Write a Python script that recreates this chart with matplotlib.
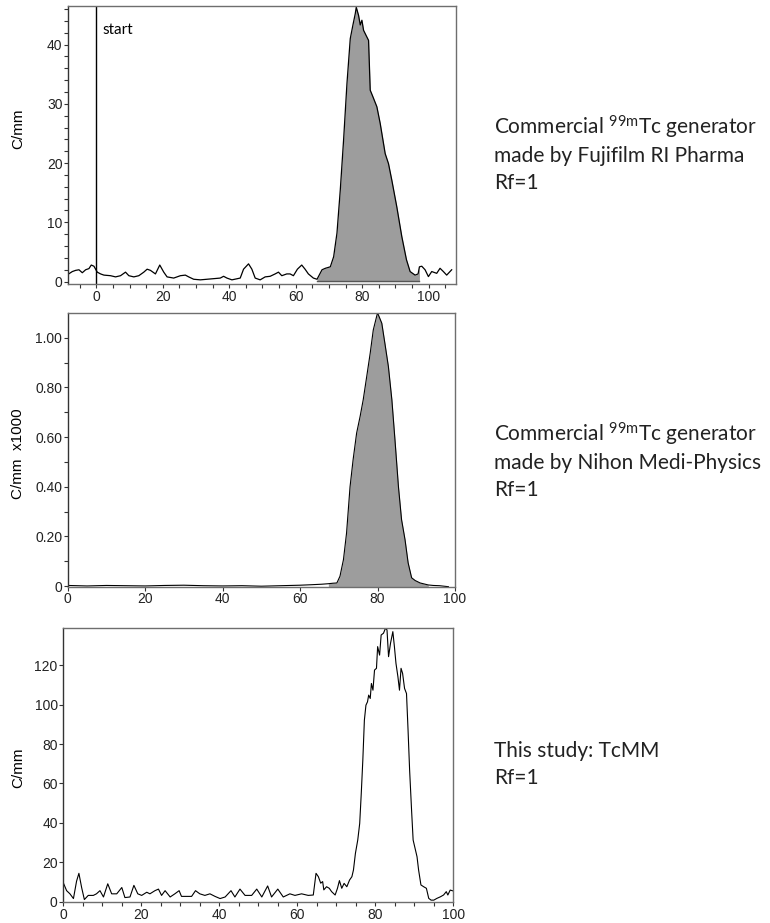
import numpy as np
import matplotlib.pyplot as plt
from matplotlib.ticker import MultipleLocator, FixedLocator, FixedFormatter

plt.rcParams['font.family'] = ['Liberation Sans', 'DejaVu Sans']
plt.rcParams['mathtext.default'] = 'regular'

# panel 1: Fujifilm RI Pharma generator
x1 = [-8.3, -7.2, -6.2, -5.2, -4.2, -3.2, -2.2, -1.5, -0.7, 0.3, 1.3, 2.3, 4.3, 5.8,
      7.3, 8.8, 9.8, 11.3, 12.8, 14.3, 15.3, 16.3, 17.8, 19.1, 20.3, 21.3, 23.3, 25.3,
      26.8, 27.8, 29.3, 31.3, 33.3, 35.3, 37.3, 38.3, 39.3, 40.8, 43.3, 44.3, 45.8,
      46.8, 47.8, 49.3, 50.8, 52.3, 53.8, 54.8, 55.8, 57.3, 58.3, 59.3, 60.5, 61.8,
      62.8, 63.8, 65.3,
      66.4, 67.9, 68.9, 70.4, 71.4, 72.4, 73.4, 74.4, 75.4, 76.4, 77.2, 77.9, 78.2,
      78.9, 79.4, 79.9, 80.4, 81.1, 81.9, 82.4, 83.2, 84.4, 85.4, 86.9, 87.9, 88.9,
      90.4, 91.9, 93.3, 94.4, 95.9, 96.8, 97.2, 97.9, 98.9, 99.9, 100.9, 102.4,
      103.4, 104.4, 105.4, 106.9]
y1 = [1.3, 1.7, 1.9, 2.0, 1.5, 2.0, 2.2, 2.8, 2.6, 1.6, 1.3, 1.1, 1.0, 0.8,
      1.0, 1.6, 1.0, 0.8, 1.0, 1.6, 2.1, 1.9, 1.3, 2.8, 1.6, 0.8, 0.6, 1.0,
      1.1, 0.8, 0.4, 0.3, 0.4, 0.5, 0.6, 0.9, 0.6, 0.3, 0.6, 2.1, 3.0,
      2.1, 0.6, 0.3, 0.8, 0.9, 1.3, 1.6, 1.0, 1.3, 1.3, 1.0, 2.1, 2.8,
      2.1, 1.3, 0.6,
      0.4, 2.0, 2.25, 2.5, 4.2, 8.2, 15.5, 24.0, 33.4, 41.0, 43.3, 45.2, 46.3,
      44.9, 43.3, 44.1, 42.4, 41.6, 40.7, 32.3, 31.2, 29.5, 26.7, 21.6, 19.9, 17.1,
      12.6, 7.6, 3.7, 1.7, 1.1, 1.3, 2.5, 2.6, 2.0, 0.85, 1.7, 1.4,
      2.25, 1.7, 1.1, 2.0]
fill1 = (66.4, 97.2)

# panel 2: Nihon Medi-Physics generator (x1000)
x2 = [0, 5, 10, 15, 20, 25, 30, 35, 40, 45, 50, 55, 60, 63, 65.6, 67.3, 68.5, 69.5,
      70.3, 71.2, 72.0, 72.9, 73.7, 74.6, 75.5, 76.3, 77.2, 78.1, 78.9, 80.0, 81.1,
      81.9, 82.8, 83.7, 84.5, 85.4, 86.2, 87.1, 87.9, 88.8, 89.7, 91.0, 93.1, 94.4,
      96.0, 98.3]
y2 = [0.003, 0.001, 0.003, 0.002, 0.001, 0.003, 0.004, 0.002, 0.001, 0.002, 0.0,
      0.002, 0.004, 0.006, 0.008, 0.010, 0.012, 0.013, 0.04, 0.107, 0.214, 0.40,
      0.51, 0.616, 0.683, 0.75, 0.843, 0.937, 1.031, 1.10, 1.058, 0.977, 0.884, 0.75,
      0.589, 0.40, 0.268, 0.187, 0.094, 0.034, 0.023, 0.013, 0.005, 0.003, 0.002,
      -0.002]
fill2 = (67.3, 93.1)

# panel 3: this study, TcMM
x3 = [0, 0.85, 1.7, 2.6, 3.4, 4.0, 4.7, 5.4, 6.4, 7.7, 8.5, 9.4, 10.3, 11.4, 12.4,
      13.7, 15.0, 15.8, 17.1, 18.1, 19.1, 20.1, 21.4, 22.2, 23.5, 24.4, 25.2, 26.1,
      27.4, 28.6, 29.7, 30.3, 31.6, 32.9, 33.9, 35.0, 36.3, 37.6, 38.9, 40.2, 41.5,
      43.0, 44.0, 45.3, 46.6, 48.3, 49.6, 50.9, 52.4, 53.4, 55.0, 56.4, 58.1, 59.4,
      61.1, 62.8, 64.1, 64.8, 65.4, 66.0, 66.5, 66.8, 67.5, 68.2, 68.8, 69.7, 70.3,
      70.8, 71.4, 72.0, 72.7, 73.4, 74.0, 74.4, 74.9, 75.5, 76.0, 76.4, 76.8, 77.2,
      77.6, 78.0, 78.3, 78.7, 79.0, 79.4, 79.8, 80.3, 80.6, 81.1, 81.5, 82.1, 82.6,
      83.0, 83.4, 83.9, 84.5, 84.9, 85.3, 85.8, 86.2, 86.6, 87.0, 87.5, 88.0, 88.4,
      88.8, 89.3, 89.7, 90.3, 90.7, 91.1, 91.7, 92.4, 93.1, 93.7, 94.3, 95.0, 95.8,
      96.7, 97.5, 98.2, 98.6, 99.2, 99.9]
y3 = [9.6, 5.6, 4.0, 1.6, 10.4, 14.4, 7.2, 1.1, 3.2, 3.2, 4.0, 5.6, 2.4, 9.1, 4.0,
      4.0, 7.2, 2.1, 2.4, 8.3, 4.0, 3.2, 4.8, 4.0, 5.6, 6.4, 3.2, 5.6,
      2.4, 4.0, 5.6, 2.7, 2.7, 2.7, 5.6, 4.0, 3.2, 4.0, 2.7, 1.6, 2.4,
      5.6, 2.4, 6.4, 3.2, 3.2, 6.4, 2.4, 8.0, 2.4, 6.4, 2.4, 4.0, 3.2,
      4.0, 3.2, 3.4, 14.4, 12.7, 9.4, 10.2, 6.0, 7.6, 6.8, 5.1, 3.4, 6.8,
      10.7, 6.8, 9.3, 7.6, 11.0, 12.7, 16.1, 24.5, 31.3, 39.7, 54.9, 71.8, 92.1,
      99.7, 101.4, 104.8, 103.1, 110.7, 107.3, 117.5, 118.4, 129.4, 125.1, 135.3, 136.2, 138.7,
      137.9, 124.3, 131.1, 137.0, 129.4, 120.9, 114.1, 107.3, 118.4, 115.8, 108.2, 105.6, 87.0,
      66.7, 46.4, 31.3, 26.2, 22.8, 16.1, 8.5, 7.6, 6.8, 1.7, 0.8, 0.8, 1.7,
      2.5, 3.4, 5.1, 3.4, 5.9, 5.5]

labels = [['Commercial $^{99m}$Tc generator', 'made by Fujifilm RI Pharma', 'Rf=1'],
          ['Commercial $^{99m}$Tc generator', 'made by Nihon Medi-Physics', 'Rf=1'],
          ['This study: TcMM', 'Rf=1']]
label_top = [134, 441, 757]   # baseline of first line, px from top

W, H = 770, 923
fig = plt.figure(figsize=(W / 100, H / 100), dpi=100)


def box(l, t, r, b):
    return fig.add_axes([l / W, 1 - b / H, (r - l) / W, (b - t) / H])


def style(ax):
    for s in ax.spines.values():
        s.set_color('#6e6e6e')
        s.set_linewidth(1.0)
    ax.spines['left'].set_color('#333333')
    ax.tick_params(which='both', direction='out', length=3, width=0.8,
                   labelsize=10, pad=1, color='#333333', labelcolor='#222222')


fillc = '#9d9d9d'

ax1 = box(68, 6, 456, 284)
xa = np.array(x1)
ya = np.array(y1)
m = (xa >= fill1[0]) & (xa <= fill1[1])
ax1.fill_between(xa[m], 0, ya[m], color=fillc, lw=0)
ax1.plot([fill1[0], fill1[1]], [0.05, 0.05], color='#555555', lw=1)
ax1.plot(x1, y1, color='black', lw=0.9)
ax1.axvline(0, color='black', lw=1)
ax1.text(1.8, 42.5, 'start', family='Lato', fontsize=11, va='center')
ax1.set_xlim(-8.5, 108.2)
ax1.set_ylim(-0.4, 46.5)
ax1.xaxis.set_major_locator(MultipleLocator(20))
ax1.xaxis.set_minor_locator(MultipleLocator(5))
ax1.yaxis.set_major_locator(MultipleLocator(10))
ax1.yaxis.set_minor_locator(MultipleLocator(2))
style(ax1)

ax2 = box(67.7, 313.3, 455, 586.7)
xb = np.array(x2)
yb = np.array(y2)
m = (xb >= fill2[0]) & (xb <= fill2[1])
ax2.fill_between(xb[m], -0.008, yb[m], color=fillc, lw=0)
ax2.plot(x2, y2, color='black', lw=0.8)
ax2.set_xlim(0, 100)
ax2.set_ylim(-0.002, 1.098)
ax2.xaxis.set_major_locator(MultipleLocator(20))
ax2.yaxis.set_major_locator(FixedLocator([0, 0.2, 0.4, 0.6, 0.8, 1.0]))
ax2.yaxis.set_major_formatter(FixedFormatter(['0', '0.20', '0.40', '0.60', '0.80', '1.00']))
ax2.yaxis.set_minor_locator(MultipleLocator(0.1))
style(ax2)

ax3 = box(63.3, 627.7, 453.3, 902.3)
ax3.plot(x3, y3, color='black', lw=0.8)
ax3.set_xlim(0, 100)
ax3.set_ylim(-0.3, 139)
ax3.xaxis.set_major_locator(MultipleLocator(20))
ax3.xaxis.set_minor_locator(MultipleLocator(5))
ax3.yaxis.set_major_locator(MultipleLocator(20))
style(ax3)

fig.text(18 / W, 1 - 129 / H, 'C/mm', rotation=90, fontsize=11, ha='center', va='center')
fig.text(18 / W, 1 - 454 / H, 'C/mm  x1000', rotation=90, fontsize=11, ha='center', va='center')
fig.text(18 / W, 1 - 768 / H, 'C/mm', rotation=90, fontsize=11, ha='center', va='center')

for lines, ytop in zip(labels, label_top):
    for i, line in enumerate(lines):
        fig.text(494 / W, 1 - (ytop + 27.5 * i) / H, line, family='Lato', fontsize=15,
                 ha='left', va='baseline', color='#222222')

fig.savefig('out.png', dpi=100)
